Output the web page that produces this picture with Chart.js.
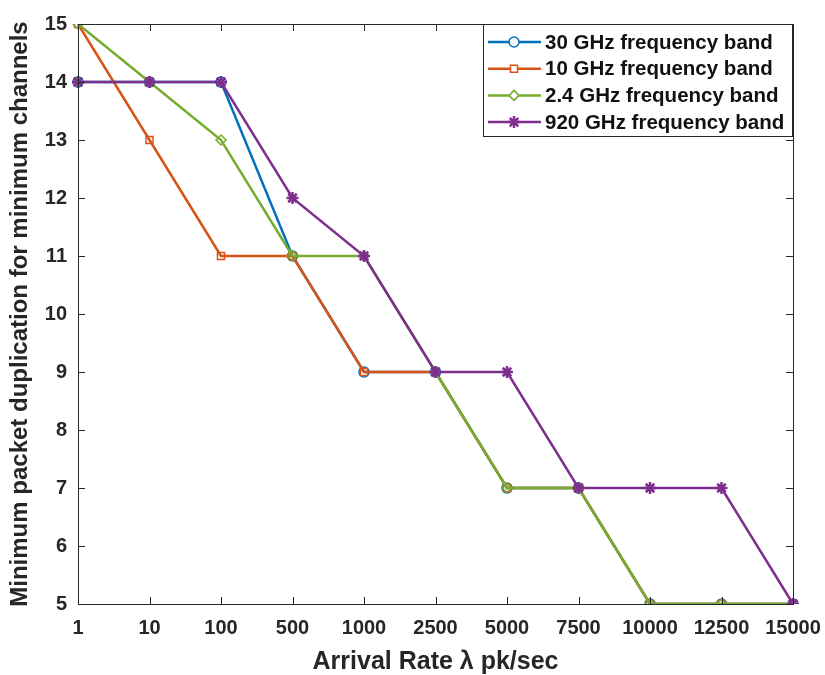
<!DOCTYPE html>
<html lang="en">
<head>
  <meta charset="UTF-8">
  <title>Minimum packet duplication</title>
  <script src="https://cdn.jsdelivr.net/npm/chart.js"></script>
  <style>
    * { margin: 0; padding: 0; box-sizing: border-box; }
    body { background: #fff; width: 825px; height: 675px; overflow: hidden; }
    canvas { display: block; }
  </style>
</head>
<body>
  <canvas id="dupChart" width="825" height="675"></canvas>

  <script>
    // data
    const arrivalRates = ['1', '10', '100', '500', '1000', '2500', '5000', '7500', '10000', '12500', '15000'];
    const band30 = [14, 14, 14, 11, 9, 9, 7, 7, 5, 5, 5];
    const band10 = [15, 13, 11, 11, 9, 9, 7, 7, 5, 5, 5];
    const band24 = [15, 14, 13, 11, 11, 9, 7, 7, 5, 5, 5];
    const band920 = [14, 14, 14, 12, 11, 9, 9, 7, 7, 7, 5];
    const yTicks = [5, 6, 7, 8, 9, 10, 11, 12, 13, 14, 15];

    const FONT = "'Liberation Sans', Arial, sans-serif";

    function series(label, data, color, style, order) {
      return {
        label: label,
        data: data,
        order: order,
        borderColor: color,
        backgroundColor: color,
        borderWidth: 2.5,
        pointStyle: style,
        pointRadius: style === 'star' ? 6 : 5,
        pointBorderColor: color,
        pointBackgroundColor: 'rgba(255,255,255,0)',
        pointBorderWidth: style === 'star' ? 2.5 : 1.5,
        tension: 0
      };
    }

    // box around the axes with inward ticks, like MATLAB
    const framePlugin = {
      id: 'frame',
      afterDatasetsDraw(chart) {
        const { ctx, chartArea: a, scales } = chart;
        ctx.save();
        ctx.strokeStyle = '#262626';
        ctx.lineWidth = 1;
        ctx.strokeRect(a.left + 0.5, a.top + 0.5, a.right - a.left, a.bottom - a.top);
        ctx.beginPath();
        const len = 7;
        scales.x.ticks.forEach((t, i) => {
          const x = Math.round(scales.x.getPixelForTick(i)) + 0.5;
          ctx.moveTo(x, a.bottom); ctx.lineTo(x, a.bottom - len);
          ctx.moveTo(x, a.top); ctx.lineTo(x, a.top + len);
        });
        scales.y.ticks.forEach((t, i) => {
          const y = Math.round(scales.y.getPixelForTick(i)) + 0.5;
          ctx.moveTo(a.left, y); ctx.lineTo(a.left + len, y);
          ctx.moveTo(a.right, y); ctx.lineTo(a.right - len, y);
        });
        ctx.stroke();
        ctx.restore();
      }
    };

    // legend box inside the top right corner
    const boxLegend = {
      id: 'boxLegend',
      afterDraw(chart) {
        const ctx = chart.ctx;
        const left = 483, top = 24, w = 309, h = 112, rowH = 26.7;
        ctx.save();
        ctx.fillStyle = '#fff';
        ctx.fillRect(left, top, w, h);
        ctx.strokeStyle = '#262626';
        ctx.lineWidth = 1;
        ctx.strokeRect(left + 0.5, top + 0.5, w, h);
        chart.data.datasets.forEach((ds, i) => {
          const y = top + 18 + i * rowH;
          ctx.strokeStyle = ds.borderColor;
          ctx.lineWidth = 2.5;
          ctx.beginPath();
          ctx.moveTo(left + 5, y);
          ctx.lineTo(left + 58, y);
          ctx.stroke();
          ctx.fillStyle = '#fff';
          ctx.strokeStyle = ds.borderColor;
          ctx.lineWidth = ds.pointBorderWidth;
          Chart.helpers.drawPoint(ctx, {
            pointStyle: ds.pointStyle,
            radius: ds.pointRadius,
            borderWidth: ds.pointBorderWidth
          }, left + 31, y);
          ctx.fillStyle = '#111';
          ctx.font = 'bold 20.5px ' + FONT;
          ctx.textBaseline = 'middle';
          ctx.textAlign = 'left';
          ctx.fillText(ds.label, left + 62, y + 1);
        });
        ctx.restore();
      }
    };

    new Chart(document.getElementById('dupChart'), {
      type: 'line',
      data: {
        labels: arrivalRates,
        datasets: [
          series('30 GHz frequency band', band30, '#0072BD', 'circle', 3),
          series('10 GHz frequency band', band10, '#D95319', 'rect', 2),
          series('2.4 GHz frequency band', band24, '#77AC30', 'rectRot', 1),
          series('920 GHz frequency band', band920, '#7E2F8E', 'star', 0)
        ]
      },
      options: {
        responsive: false,
        animation: false,
        layout: { padding: { top: 24, right: 32, left: 0, bottom: 0 } },
        plugins: {
          legend: { display: false },
          tooltip: { enabled: false }
        },
        scales: {
          x: {
            offset: false,
            grid: { display: false, drawTicks: false },
            border: { display: false },
            ticks: {
              color: '#262626',
              font: { family: FONT, size: 20, weight: 'bold' },
              padding: 12,
              maxRotation: 0,
              autoSkip: false
            },
            title: {
              display: true,
              text: 'Arrival Rate \u03bb pk/sec',
              color: '#262626',
              font: { family: FONT, size: 25, weight: 'bold', lineHeight: 1 },
              padding: { top: 4, bottom: 0 }
            },
            afterFit(scale) {
              scale.height = 71;
              scale.paddingLeft = 0;
              scale.paddingRight = 0;
            }
          },
          y: {
            min: 5,
            max: 15,
            grid: { display: false, drawTicks: false },
            border: { display: false },
            afterBuildTicks(scale) { scale.ticks = yTicks.map(v => ({ value: v })); },
            ticks: {
              color: '#262626',
              font: { family: FONT, size: 20, weight: 'bold' },
              padding: 11
            },
            title: {
              display: true,
              text: 'Minimum packet duplication for minimum channels',
              color: '#262626',
              font: { family: FONT, size: 24, weight: 'bold' },
              padding: { top: 6, bottom: 0 }
            },
            afterFit(scale) {
              scale.width = 78;
              scale.paddingTop = 0;
              scale.paddingBottom = 0;
            }
          }
        }
      },
      plugins: [framePlugin, boxLegend]
    });
  </script>
</body>
</html>
